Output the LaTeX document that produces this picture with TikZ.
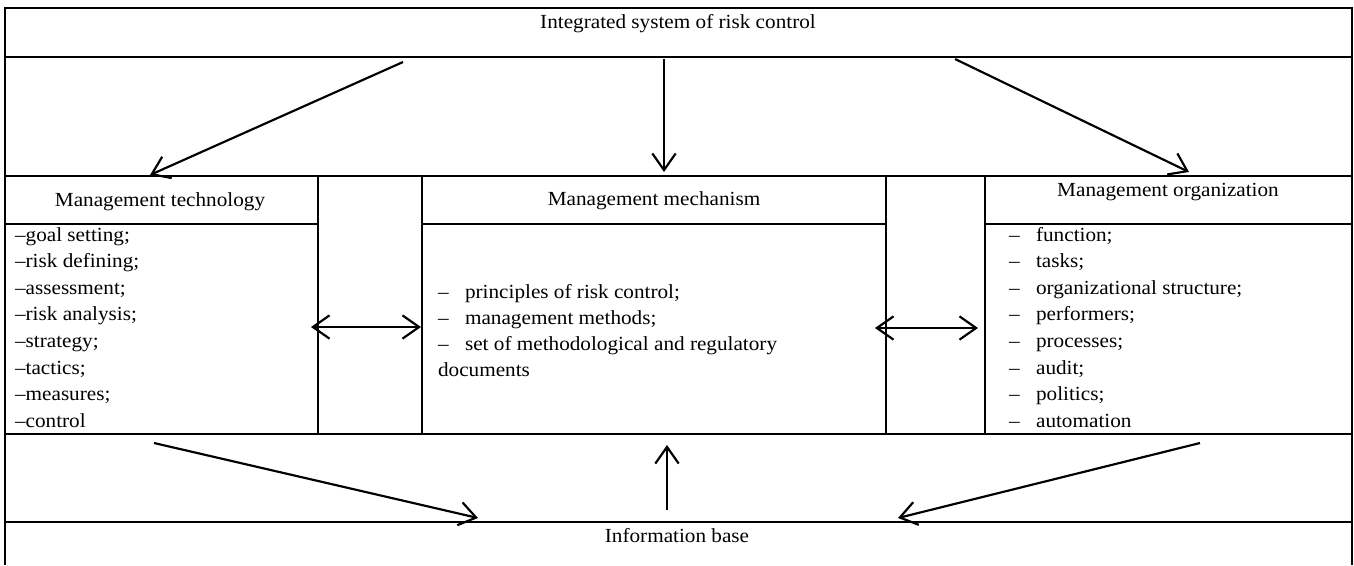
\documentclass[tikz,border=0pt]{standalone}
\usepackage{fontspec}
\setmainfont{Liberation Serif}[FakeStretch=1.06]
\usetikzlibrary{arrows.meta}

\tikzset{
  lbl/.style={anchor=base, inner sep=0pt, font=\fontsize{12}{14}\selectfont},
  item/.style={anchor=base west, inner sep=0pt, font=\fontsize{12}{14}\selectfont}
}
\newcommand{\tabdash}{\makebox[16.2pt][l]{--}}

\begin{document}
\begin{tikzpicture}[x=0.6pt,y=-0.6pt,>={Straight Barb[length=10pt,width=14pt]},line width=1.3pt]
\useasboundingbox (0,0) rectangle (1354,565);
% frame and cells
\draw (5,8) rectangle (1352,57);
\draw (5,57) -- (5,176) (1352,57) -- (1352,176);
\draw (5,176) rectangle (318,224);
\draw (5,224) rectangle (318,434);
\draw (318,176) rectangle (422,434);
\draw (422,176) rectangle (886,224);
\draw (422,224) rectangle (886,434);
\draw (886,176) rectangle (985,434);
\draw (985,176) rectangle (1352,224);
\draw (985,224) rectangle (1352,434);
\draw (5,434) -- (5,522) (1352,434) -- (1352,522);
\draw (5,565) |- (1352,522) -- (1352,565);

% titles
\path node[lbl] (title) at (678,28) {Integrated system of risk control};
\path node[lbl] (techt) at (160,206) {Management technology};
\path node[lbl] (mecht) at (654,205) {Management mechanism};
\path node[lbl] (orgt) at (1168,196) {Management organization};
\path node[lbl] (info) at (677,542) {Information base};

% lists
\foreach \t [count=\i from 0] in {{goal setting;},{risk defining;},{assessment;},{risk analysis;},{strategy;},{tactics;},{measures;},{control}}
  \path node[item] (tech\i) at (14,241+26.6*\i) {--\t};
\path node[item] (mech0) at (437,298) {\tabdash principles of risk control;};
\path node[item] (mech1) at (437,324) {\tabdash management methods;};
\path node[item] (mech2) at (437,350) {\tabdash set of methodological and regulatory};
\path node[item] (mech3) at (437,376) {documents};
\foreach \t [count=\i from 0] in {{function;},{tasks;},{organizational structure;},{performers;},{processes;},{audit;},{politics;},{automation}}
  \path node[item] (org\i) at (1008,241+26.6*\i) {\tabdash\t};

% arrow ends
\coordinate (ts1) at (403,62);  \coordinate (te1) at (150,175);
\coordinate (ts2) at (664,59);  \coordinate (te2) at (664,172);
\coordinate (ts3) at (955,59);  \coordinate (te3) at (1189,172);
\coordinate (hl1) at (311,327); \coordinate (hl2) at (421,327);
\coordinate (hr1) at (875,328); \coordinate (hr2) at (978,328);
\coordinate (bs1) at (154,443); \coordinate (be1) at (478,518);
\coordinate (bs2) at (667,510); \coordinate (be2) at (667,445);
\coordinate (bs3) at (1200,443); \coordinate (be3) at (898,518);

\path[->] (ts1) edge (te1) (ts2) edge (te2) (ts3) edge (te3);
\path[<->] (hl1) edge (hl2) (hr1) edge (hr2);
\path[->] (bs1) edge (be1) (bs2) edge (be2) (bs3) edge (be3);
\end{tikzpicture}
\end{document}
